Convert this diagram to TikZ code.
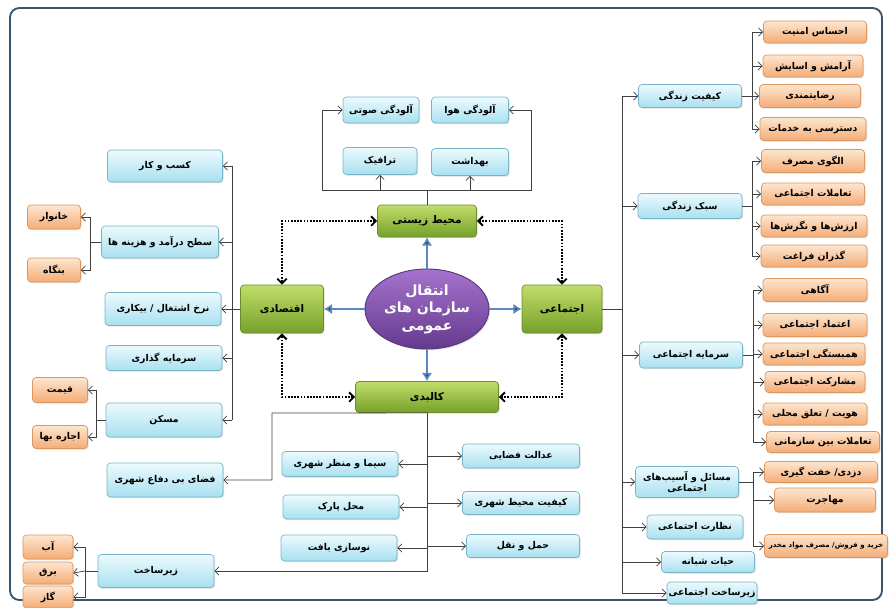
\documentclass[tikz,border=0pt]{standalone}
\usepackage{fontspec}
\newfontfamily\arabicfont[Script=Arabic]{DejaVu Sans}
\TeXXeTstate=1
\usetikzlibrary{%
   arrows.meta,%
   calc,%
   positioning,%
   shapes.geometric,%
   shadows}

\definecolor{frameblue}{RGB}{55,85,115}
\definecolor{greentop}{RGB}{192,222,105}
\definecolor{greenbot}{RGB}{118,160,42}
\definecolor{greenline}{RGB}{105,140,45}
\definecolor{cyantop}{RGB}{236,250,253}
\definecolor{cyanbot}{RGB}{168,224,240}
\definecolor{cyanline}{RGB}{120,180,200}
\definecolor{peachtop}{RGB}{253,230,208}
\definecolor{peachbot}{RGB}{244,172,118}
\definecolor{peachline}{RGB}{222,150,92}
\definecolor{purpletop}{RGB}{165,115,205}
\definecolor{purplebot}{RGB}{100,58,142}
\definecolor{purpleline}{RGB}{88,55,125}
\definecolor{arrowblue}{RGB}{88,136,190}

\newcommand{\fa}[1]{\beginR#1\endR}
\def\px{0.03cm}

\tikzset{
  wh/.style 2 args={
    minimum width=#1*\px,
    minimum height=#2*\px,
  },
  base box/.style={
    rounded corners=3pt,
    draw,
    inner sep=1pt,
    font=\arabicfont\footnotesize\bfseries,
    drop shadow={opacity=0.25,shadow xshift=1pt,shadow yshift=-1pt},
  },
  topic box/.style={
    base box,
    draw=greenline,
    top color=greentop,
    bottom color=greenbot,
    font=\arabicfont\small\bfseries,
  },
  sub box/.style={
    base box,
    draw=cyanline,
    top color=cyantop,
    bottom color=cyanbot,
  },
  leaf box/.style={
    base box,
    draw=peachline,
    top color=peachtop,
    bottom color=peachbot,
  },
  hub/.style={
    ellipse,
    draw=purpleline,
    thick,
    inner sep=0pt,
    top color=purpletop,
    bottom color=purplebot,
    text=white,
    align=center,
    font=\arabicfont\large\bfseries,
    drop shadow={opacity=0.25,shadow xshift=1pt,shadow yshift=-1pt},
  },
  core link/.style={
    -{Latex[length=7pt,width=9pt]},
    draw=arrowblue,
    line width=2pt,
  },
  dot link/.style={
    <->,
    >={Straight Barb[length=4pt,width=8pt]},
    dash pattern=on 1.5pt off 1.2pt,
    line width=1.6pt,
    draw=black,
  },
}

\begin{document}
\begin{tikzpicture}[
        x=0.03cm, y=-0.03cm, % one unit = one pixel of the sheet
        >={Straight Barb[length=3.5pt,width=7pt]}, % arrow head style
        line width=0.6pt, % line style
        draw=black!75
    ]

    \useasboundingbox (0,0) rectangle (889,607);
    \draw[frameblue, line width=1.6pt, rounded corners=8pt] (10,8) rectangle (882,600);

    % centre and the four fields
    \node[hub, wh={124}{80}] (hub) at (427,309) {\fa{انتقال}\\[1pt]\fa{سازمان های}\\[1pt]\fa{عمومی}};
    \node[topic box, wh={99}{32}] (env) at (427,221) {\fa{محیط زیستی}};
    \node[topic box, wh={83}{48}] (eco) at (282,309) {\fa{اقتصادی}};
    \node[topic box, wh={80}{48}] (soc) at (562,309) {\fa{اجتماعی}};
    \node[topic box, wh={143}{31}] (phys) at (427,397) {\fa{کالبدی}};

    \path[core link] (hub) edge (env) edge (eco) edge (soc) edge (phys);

    \draw[dot link] (env.west) -| (eco.north);
    \draw[dot link] (env.east) -| (soc.north);
    \draw[dot link] (phys.west) -| (eco.south);
    \draw[dot link] (phys.east) -| (soc.south);

    % environment
    \node[sub box, wh={76}{26}] (noise) at (381,110) {\fa{آلودگی صوتی}};
    \node[sub box, wh={77}{26}] (air) at (470,110) {\fa{آلودگی هوا}};
    \node[sub box, wh={74}{27}] (traffic) at (380,161) {\fa{ترافیک}};
    \node[sub box, wh={77}{27}] (health) at (470,162) {\fa{بهداشت}};

    \coordinate (envL) at (322,190);
    \coordinate (envR) at (531,190);
    \draw[->] (env.north) |- (envL) |- (noise.west);
    \draw[->] (env.north) |- (envR) |- (air.east);
    \draw[->] (traffic.south |- envL) -- (traffic.south);
    \draw[->] (health.south |- envL) -- (health.south);

    % economy
    \node[sub box, wh={115}{32}] (business) at (165,166) {\fa{کسب و کار}};
    \node[sub box, wh={117}{32}] (income) at (160,242) {\fa{سطح درآمد و هزینه ها}};
    \node[sub box, wh={116}{33}] (employ) at (163,309) {\fa{نرخ اشتغال / بیکاری}};
    \node[sub box, wh={116}{25}] (invest) at (164,358) {\fa{سرمایه گذاری}};
    \node[sub box, wh={116}{34}] (housing) at (164,420) {\fa{مسکن}};

    \coordinate (ecoBus) at (232,309);
    \draw (eco.west) -- (ecoBus);
    \draw (ecoBus |- business) -- (ecoBus |- housing);
    \draw[->] (ecoBus |- business) -- (business.east);
    \draw[->] (ecoBus |- income) -- (income.east);
    \draw[->] (ecoBus |- employ) -- (employ.east);
    \draw[->] (ecoBus |- invest) -- (invest.east);
    \draw[->] (ecoBus |- housing) -- (housing.east);

    \node[leaf box, wh={53}{24}] (household) at (54,217) {\fa{خانوار}};
    \node[leaf box, wh={53}{24}] (firm) at (54,270) {\fa{بنگاه}};
    \coordinate (incBus) at (90,242);
    \draw (income.west) -- (incBus);
    \draw[->] (incBus) |- (household.east);
    \draw[->] (incBus) |- (firm.east);

    \node[leaf box, wh={55}{25}] (price) at (60,390) {\fa{قیمت}};
    \node[leaf box, wh={55}{23}] (rent) at (60,437) {\fa{اجاره بها}};
    \coordinate (houseBus) at (96,420);
    \draw (housing.west) -- (houseBus);
    \draw[->] (houseBus) |- (price.east);
    \draw[->] (houseBus) |- (rent.east);

    % physical
    \node[sub box, wh={116}{34}] (defense) at (165,480) {\fa{فضای بی دفاع شهری}};
    \node[sub box, wh={116}{33}] (infra) at (156,571) {\fa{زیرساخت}};
    \coordinate (defC) at (272,413);
    \draw[->] (phys.south) -- (defC) |- (defense.east);
    \draw[->] (phys.south) |- (infra.east);

    \node[sub box, wh={116}{25}] (skyline) at (340,464) {\fa{سیما و منظر شهری}};
    \node[sub box, wh={116}{24}] (parking) at (341,507) {\fa{محل پارک}};
    \node[sub box, wh={116}{26}] (renewal) at (339,548) {\fa{نوسازی بافت}};
    \node[sub box, wh={117}{24}] (justice) at (521,456) {\fa{عدالت فضایی}};
    \node[sub box, wh={117}{23}] (urbanq) at (521,503) {\fa{کیفیت محیط شهری}};
    \node[sub box, wh={113}{23}] (transport) at (523,546) {\fa{حمل و نقل}};

    \draw[->] (phys.south |- skyline) -- (skyline.east);
    \draw[->] (phys.south |- parking) -- (parking.east);
    \draw[->] (phys.south |- renewal) -- (renewal.east);
    \draw[->] (phys.south |- justice) -- (justice.west);
    \draw[->] (phys.south |- urbanq) -- (urbanq.west);
    \draw[->] (phys.south |- transport) -- (transport.west);

    \node[leaf box, wh={50}{24}] (water) at (48,547) {\fa{آب}};
    \node[leaf box, wh={50}{22}, below=2pt of water] (power) {\fa{برق}};
    \node[leaf box, wh={50}{22}, below=1pt of power] (gas) {\fa{گاز}};
    \coordinate (infraBus) at (85,571);
    \draw (infra.west) -- (infraBus);
    \draw[->] (infraBus) |- (water.east);
    \draw[->] (infraBus) -- (power.east);
    \draw[->] (infraBus) |- (gas.east);

    % society
    \node[sub box, wh={103}{23}] (life) at (690,96) {\fa{کیفیت زندگی}};
    \node[sub box, wh={104}{25}] (lifestyle) at (690,206) {\fa{سبک زندگی}};
    \node[sub box, wh={103}{26}] (capital) at (691,355) {\fa{سرمایه اجتماعی}};
    \node[sub box, wh={103}{31}, align=center] (problems) at (687,482) {\fa{مسائل و آسیب‌های}\\\fa{اجتماعی}};
    \node[sub box, wh={96}{24}] (control) at (695,527) {\fa{نظارت اجتماعی}};
    \node[sub box, wh={93}{21}] (night) at (708,562) {\fa{حیات شبانه}};
    \node[sub box, wh={90}{22}] (socinfra) at (712,593) {\fa{زیرساخت اجتماعی}};

    \coordinate (socBus) at (622,309);
    \draw (soc.east) -- (socBus);
    \draw (socBus |- life) -- (socBus |- socinfra);
    \draw[->] (socBus |- life) -- (life.west);
    \draw[->] (socBus |- lifestyle) -- (lifestyle.west);
    \draw[->] (socBus |- capital) -- (capital.west);
    \draw[->] (socBus |- problems) -- (problems.west);
    \draw[->] (socBus |- control) -- (control.west);
    \draw[->] (socBus |- night) -- (night.west);
    \draw[->] (socBus |- socinfra) -- (socinfra.west);

    \node[leaf box, wh={103}{22}] (security) at (815,32) {\fa{احساس امنیت}};
    \node[leaf box, wh={100}{22}] (comfort) at (813,66) {\fa{آرامش و اسایش}};
    \node[leaf box, wh={101}{23}] (satisfy) at (810,96) {\fa{رضایتمندی}};
    \node[leaf box, wh={106}{23}] (access) at (813,129) {\fa{دسترسی به خدمات}};
    \coordinate (lifeBus) at (752,96);
    \draw (life.east) -- (lifeBus);
    \draw (lifeBus |- security) -- (lifeBus |- access);
    \draw[->] (lifeBus |- security) -- (security.west);
    \draw[->] (lifeBus |- comfort) -- (comfort.west);
    \draw[->] (lifeBus) -- (satisfy.west);
    \draw[->] (lifeBus |- access) -- (access.west);

    \node[leaf box, wh={103}{23}] (consume) at (813,161) {\fa{الگوی مصرف}};
    \node[leaf box, wh={103}{22}] (interact) at (813,194) {\fa{تعاملات اجتماعی}};
    \node[leaf box, wh={106}{22}] (values) at (814,226) {\fa{ارزش‌ها و نگرش‌ها}};
    \node[leaf box, wh={106}{22}] (leisure) at (814,256) {\fa{گذران فراغت}};
    \coordinate (styleBus) at (752,206);
    \draw (lifestyle.east) -- (styleBus);
    \draw (styleBus |- consume) -- (styleBus |- leisure);
    \draw[->] (styleBus |- consume) -- (consume.west);
    \draw[->] (styleBus |- interact) -- (interact.west);
    \draw[->] (styleBus |- values) -- (values.west);
    \draw[->] (styleBus |- leisure) -- (leisure.west);

    \node[leaf box, wh={104}{23}] (aware) at (815,290) {\fa{آگاهی}};
    \node[leaf box, wh={104}{23}] (trust) at (815,325) {\fa{اعتماد اجتماعی}};
    \node[leaf box, wh={102}{22}] (solidarity) at (814,354) {\fa{همبستگی اجتماعی}};
    \node[leaf box, wh={100}{21}] (partic) at (815,382) {\fa{مشارکت اجتماعی}};
    \node[leaf box, wh={104}{22}] (identity) at (815,414) {\fa{هویت / تعلق محلی}};
    \node[leaf box, wh={113}{21}] (interorg) at (823,442) {\fa{تعاملات بین سازمانی}};
    \coordinate (capBus) at (753,355);
    \draw (capital.east) -- (capBus);
    \draw (capBus |- aware) -- (capBus |- interorg);
    \draw[->] (capBus |- aware) -- (aware.west);
    \draw[->] (capBus |- trust) -- (trust.west);
    \draw[->] (capBus |- solidarity) -- (solidarity.west);
    \draw[->] (capBus |- partic) -- (partic.west);
    \draw[->] (capBus |- identity) -- (identity.west);
    \draw[->] (capBus |- interorg) -- (interorg.west);

    \node[leaf box, wh={113}{21}] (theft) at (821,472) {\fa{دزدی/ خفت گیری}};
    \node[leaf box, wh={101}{24}] (migrate) at (825,500) {\fa{مهاجرت}};
    \node[leaf box, wh={123}{23}, font=\arabicfont\fontsize{6pt}{7pt}\selectfont\bfseries] (drugs) at (826,546) {\fa{خرید و فروش/ مصرف مواد مخدر}};
    \coordinate (probBus) at (753,482);
    \draw (problems.east) -- (probBus);
    \draw (probBus |- theft) -- (probBus |- drugs);
    \draw[->] (probBus |- theft) -- (theft.west);
    \draw[->] (probBus |- migrate) -- (migrate.west);
    \draw[->] (probBus |- drugs) -- (drugs.west);

\end{tikzpicture}
\end{document}
